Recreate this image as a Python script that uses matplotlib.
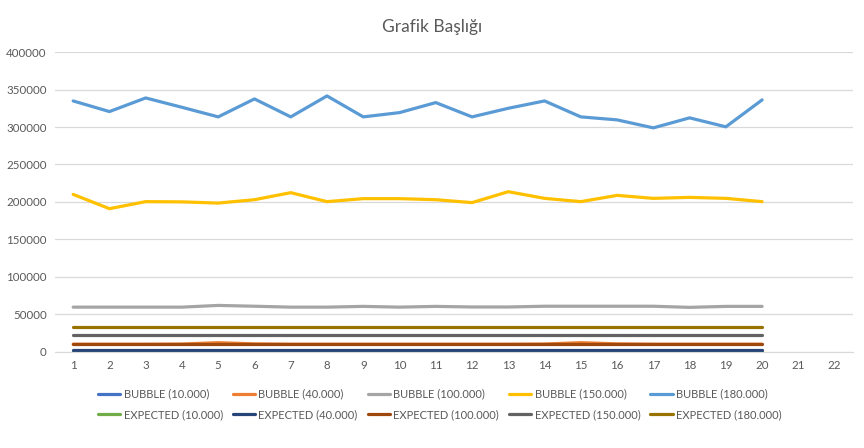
import numpy as np
import matplotlib.pyplot as plt

plt.rcParams['font.family'] = ['Lato', 'DejaVu Sans']

runs = list(range(1, 21))
categories = list(range(1, 23))

bubble_10 = [700] * 20
bubble_40 = [9800, 9800, 9800, 10000, 11800, 10200, 9800, 9800, 9800, 9800,
             9800, 9800, 9800, 10000, 11800, 10200, 9800, 9800, 9800, 9800]
bubble_100 = [59300, 59300, 59300, 59300, 61600, 60500, 59300, 59300, 60300, 59300,
              60300, 59500, 59500, 60500, 60500, 60500, 60500, 59000, 60300, 60300]
bubble_150 = [210000, 190900, 200300, 200000, 198400, 202900, 212300, 200300, 204300, 204300,
              202900, 199000, 213600, 204700, 200300, 208700, 204700, 206000, 204700, 200300]
bubble_180 = [334900, 320700, 338900, 326400, 313600, 337600, 313600, 341600, 313600, 319300,
              332700, 313600, 325100, 334900, 313600, 309600, 298900, 312300, 300300, 336300]

expected_10 = [100] * 20
expected_40 = [1600] * 20
expected_100 = [10000] * 20
expected_150 = [22500] * 20
expected_180 = [32400] * 20

bubble_series = [
    ("BUBBLE (10.000)", bubble_10, "#4472C4"),
    ("BUBBLE (40.000)", bubble_40, "#ED7D31"),
    ("BUBBLE (100.000)", bubble_100, "#A5A5A5"),
    ("BUBBLE (150.000)", bubble_150, "#FFC000"),
    ("BUBBLE (180.000)", bubble_180, "#5B9BD5"),
]
expected_series = [
    ("EXPECTED (10.000)", expected_10, "#70AD47"),
    ("EXPECTED (40.000)", expected_40, "#264478"),
    ("EXPECTED (100.000)", expected_100, "#9E480E"),
    ("EXPECTED (150.000)", expected_150, "#636363"),
    ("EXPECTED (180.000)", expected_180, "#997300"),
]

fig = plt.figure(figsize=(8.64, 4.48), dpi=100)
ax = fig.add_axes([0.0637, 0.2154, 0.9233, 0.668])

handles = {}
for name, vals, col in bubble_series + expected_series:
    ln, = ax.plot(runs, vals, color=col, lw=2.3, solid_capstyle='round', label=name)
    handles[name] = ln

ax.set_xlim(0.5, 22.5)
ax.set_ylim(0, 400000)
ax.set_yticks(np.arange(0, 400001, 50000))
ax.set_xticks(categories)
ax.grid(axis='y', color='#D9D9D9', lw=0.9)
ax.set_axisbelow(True)
for s in ['top', 'right', 'left']:
    ax.spines[s].set_visible(False)
ax.spines['bottom'].set_color('#D9D9D9')
ax.tick_params(length=0, labelsize=8.3, labelcolor='#595959', pad=6)

fig.text(0.5, 0.94, "Grafik Başlığı", ha='center', va='center',
         fontsize=12.5, color='#595959')

# legend: bubble runs on the first row, expected on the second
order = []
for (b, _, _), (e, _, _) in zip(bubble_series, expected_series):
    order += [b, e]
fig.legend([handles[n] for n in order], order, loc='center', ncol=5,
           bbox_to_anchor=(0.509, 0.0975), frameon=False, fontsize=8,
           labelcolor='#595959', handlelength=2.0, handletextpad=0.3,
           columnspacing=0.9, labelspacing=0.85)

fig.savefig("out.png", dpi=100)
